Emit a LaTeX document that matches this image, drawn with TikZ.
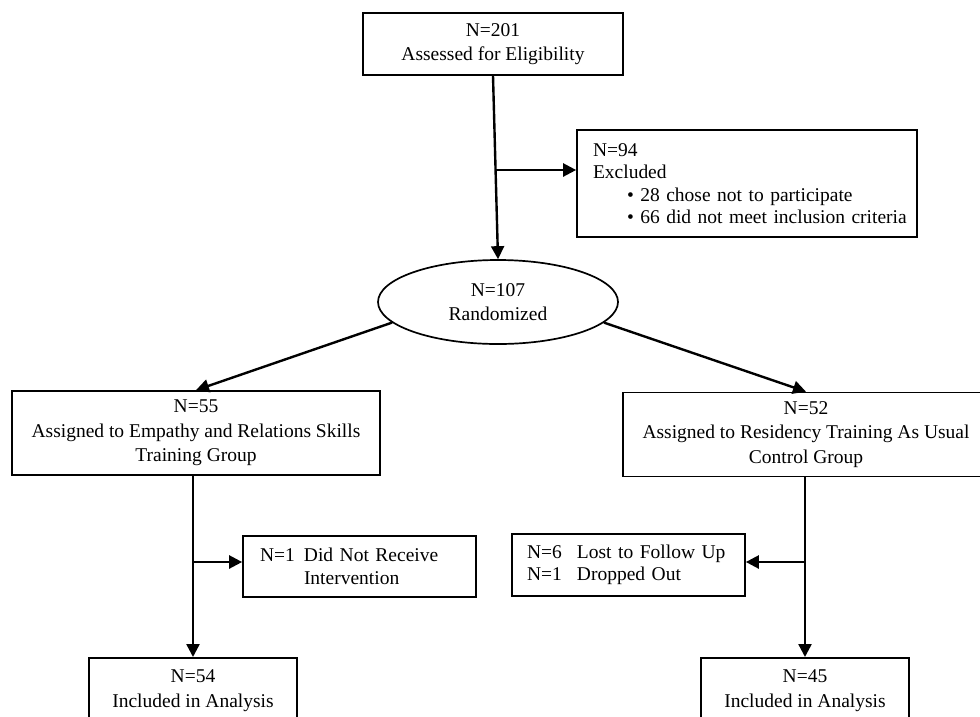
\documentclass[tikz,border=0pt]{standalone}
\usepackage{fontspec}
\setmainfont{Liberation Serif}
\usetikzlibrary{arrows.meta,shapes.geometric}
\begin{document}
\begin{tikzpicture}[x=1pt,y=-1pt,
  box/.style={draw,line width=1.7pt,inner sep=0pt,font=\fontsize{19.5}{24.5}\selectfont,align=center},
  lbox/.style={draw,line width=1.7pt,inner sep=0pt,font=\fontsize{19.5}{22.5}\selectfont,align=left},
  arr/.style={line width=2.4pt,-{Triangle[length=13pt,width=13pt]}}]
\useasboundingbox (0,0) rectangle (980,716);
\clip (0,0) rectangle (980,716);
\node[box,minimum width=260pt,minimum height=62pt] (assess) at (493,44) {N=201\\Assessed for Eligibility};
\node[lbox,minimum width=340pt,minimum height=107pt,text width=340pt] (excl) at (747,183.5)
  {\hspace*{16pt}N=94\\\hspace*{16pt}Excluded\\\hspace*{50pt}\mbox{• 28 chose not to participate}\\\hspace*{50pt}\mbox{• 66 did not meet inclusion criteria}};
\node[box,ellipse,minimum width=240pt,minimum height=84pt] (rand) at (498,302) {N=107\\Randomized};
\node[box,minimum width=368pt,minimum height=84pt] (emp) at (196,433) {N=55\\Assigned to Empathy and Relations Skills\\Training Group};
\node[box,minimum width=366pt,minimum height=84pt] (ctl) at (806,434.5) {N=52\\Assigned to Residency Training As Usual\\Control Group};
\node[lbox,minimum width=233pt,minimum height=61pt,text width=233pt] (nrec) at (359.5,566.5)
  {\hspace*{17pt}\makebox[44pt][l]{N=1}Did Not Receive\\\hspace*{61pt}Intervention};
\node[lbox,minimum width=233pt,minimum height=62pt,text width=233pt] (lost) at (628.5,565)
  {\hspace*{15pt}\makebox[50pt][l]{N=6}Lost to Follow Up\\\hspace*{15pt}\makebox[50pt][l]{N=1}Dropped Out};
\node[box,anchor=north,minimum width=208pt,inner ysep=12pt] (inc1) at (193,657) {N=54\\Included in Analysis};
\node[box,anchor=north,minimum width=208pt,inner ysep=12pt] (inc2) at (805,657) {N=45\\Included in Analysis};
\coordinate (j1) at (495,170);
\coordinate (yb) at (0,562);
\draw[arr] (assess.south) -- (rand.north);
\draw[arr] (j1) -- (j1 -| excl.west);
\draw[arr] (rand.191) -- (emp.north);
\draw[arr] (rand.349) -- (ctl.north);
\draw[arr] (inc1.north |- emp.south) -- (inc1.north);
\draw[arr] (inc2.north |- ctl.south) -- (inc2.north);
\coordinate (j2) at (inc1.north |- yb);
\coordinate (j3) at (inc2.north |- yb);
\draw[arr] (j2) -- (j2 -| nrec.west);
\draw[arr] (j3) -- (j3 -| lost.east);
\end{tikzpicture}
\end{document}
